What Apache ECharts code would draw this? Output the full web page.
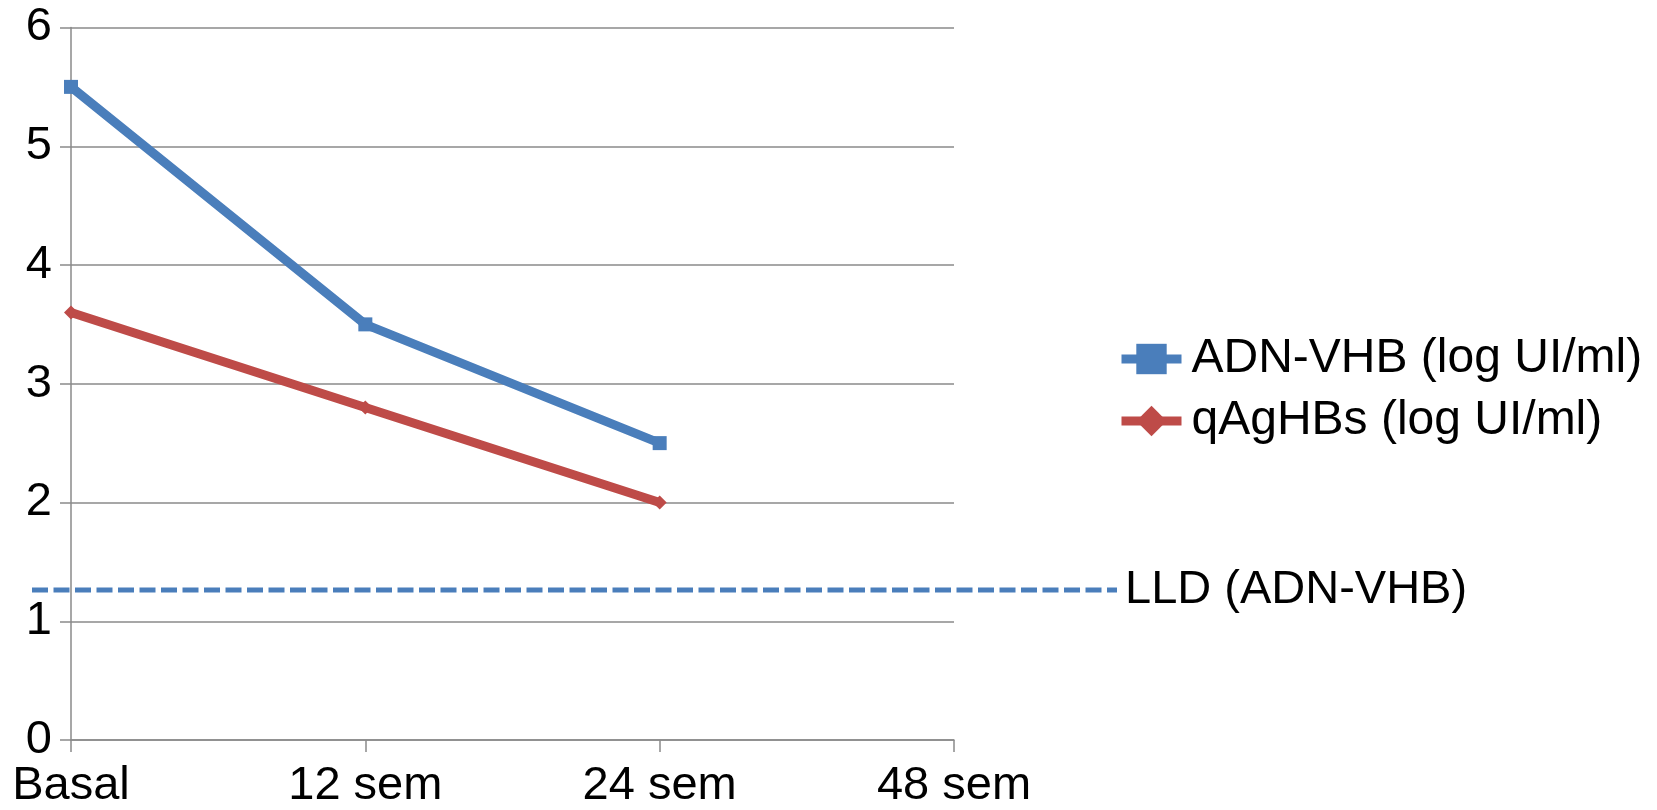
<!DOCTYPE html>
<html>
<head>
<meta charset="utf-8">
<title>ADN-VHB y qAgHBs</title>
<script src="https://cdn.jsdelivr.net/npm/echarts@6/dist/echarts.min.js"></script>
<style>
  html, body { margin: 0; padding: 0; background: #ffffff; }
  #chart { width: 1657px; height: 810px; }
</style>
</head>
<body>
<div id="chart"></div>
<script>
// Time points of follow-up
const categories = ['Basal', '12 sem', '24 sem', '48 sem'];
// HBV DNA (log UI/ml) and quantitative HBsAg (log UI/ml); 48 sem not yet available
const adnVhb = [5.5, 3.5, 2.5, null];
const qAgHBs = [3.6, 2.8, 2.0, null];
// Lower limit of detection for HBV DNA (log UI/ml)
const lldValue = 1.28;
const lldName = 'LLD (ADN-VHB)';
// Y axis range and step
const yMin = 0, yMax = 6, yStep = 1;

const FONT = '"Liberation Sans", Arial, sans-serif';
const GRAY = '#8a8a8a';
const BLUE = '#4a7ebb';
const RED = '#be4b48';

const gridTop = 27.5, gridHeight = 715;

const chart = echarts.init(document.getElementById('chart'), null, { renderer: 'canvas' });

chart.setOption({
  animation: false,
  backgroundColor: '#ffffff',
  textStyle: { fontFamily: FONT, color: '#000' },
  grid: [
    { left: 71, width: 883, top: gridTop, height: gridHeight, containLabel: false },
    // wider strip used by the detection-limit reference line
    { left: 32, width: 1085, top: gridTop, height: gridHeight, containLabel: false }
  ],
  xAxis: [
    {
      type: 'category', gridIndex: 0, data: categories, boundaryGap: false,
      axisLine: { lineStyle: { color: GRAY, width: 1.5 } },
      axisTick: { show: true, length: 12, lineStyle: { color: GRAY, width: 1.5 } },
      axisLabel: { color: '#000', fontSize: 47, fontFamily: FONT, margin: 23, interval: 0 },
      splitLine: { show: false }
    },
    {
      type: 'category', gridIndex: 1, data: ['', ''], boundaryGap: false, show: false
    }
  ],
  yAxis: [
    {
      type: 'value', gridIndex: 0, min: yMin, max: yMax, interval: yStep,
      axisLine: { show: true, lineStyle: { color: GRAY, width: 1.5 } },
      axisTick: { show: true, length: 11, lineStyle: { color: GRAY, width: 1.5 } },
      axisLabel: { color: '#000', fontSize: 47, fontFamily: FONT, margin: 19 },
      splitLine: { show: true, lineStyle: { color: GRAY, width: 1.5 } }
    },
    {
      type: 'value', gridIndex: 1, min: yMin, max: yMax, show: false
    }
  ],
  legend: {
    orient: 'vertical',
    left: 1112, top: 329,
    itemWidth: 60, itemHeight: 38, itemGap: 12,
    data: ['ADN-VHB (log UI/ml)', 'qAgHBs (log UI/ml)'],
    lineStyle: { width: 9 },
    textStyle: { fontSize: 48, lineHeight: 50, fontFamily: FONT, color: '#000', padding: [0, 0, 0, 5] }
  },
  series: [
    {
      name: 'ADN-VHB (log UI/ml)', type: 'line', xAxisIndex: 0, yAxisIndex: 0,
      data: adnVhb, symbol: 'rect', symbolSize: 14,
      lineStyle: { color: BLUE, width: 9 }, itemStyle: { color: BLUE },
      z: 3
    },
    {
      name: 'qAgHBs (log UI/ml)', type: 'line', xAxisIndex: 0, yAxisIndex: 0,
      data: qAgHBs, symbol: 'diamond', symbolSize: 14,
      lineStyle: { color: RED, width: 9 }, itemStyle: { color: RED },
      z: 3
    },
    {
      name: lldName, type: 'line', xAxisIndex: 1, yAxisIndex: 1,
      data: [lldValue, lldValue], symbol: 'none',
      lineStyle: { color: BLUE, width: 5, type: [16, 5.5] },
      endLabel: {
        show: true, formatter: lldName, distance: 8,
        fontSize: 47, fontFamily: FONT, color: '#000'
      },
      z: 2
    }
  ]
});
</script>
</body>
</html>
